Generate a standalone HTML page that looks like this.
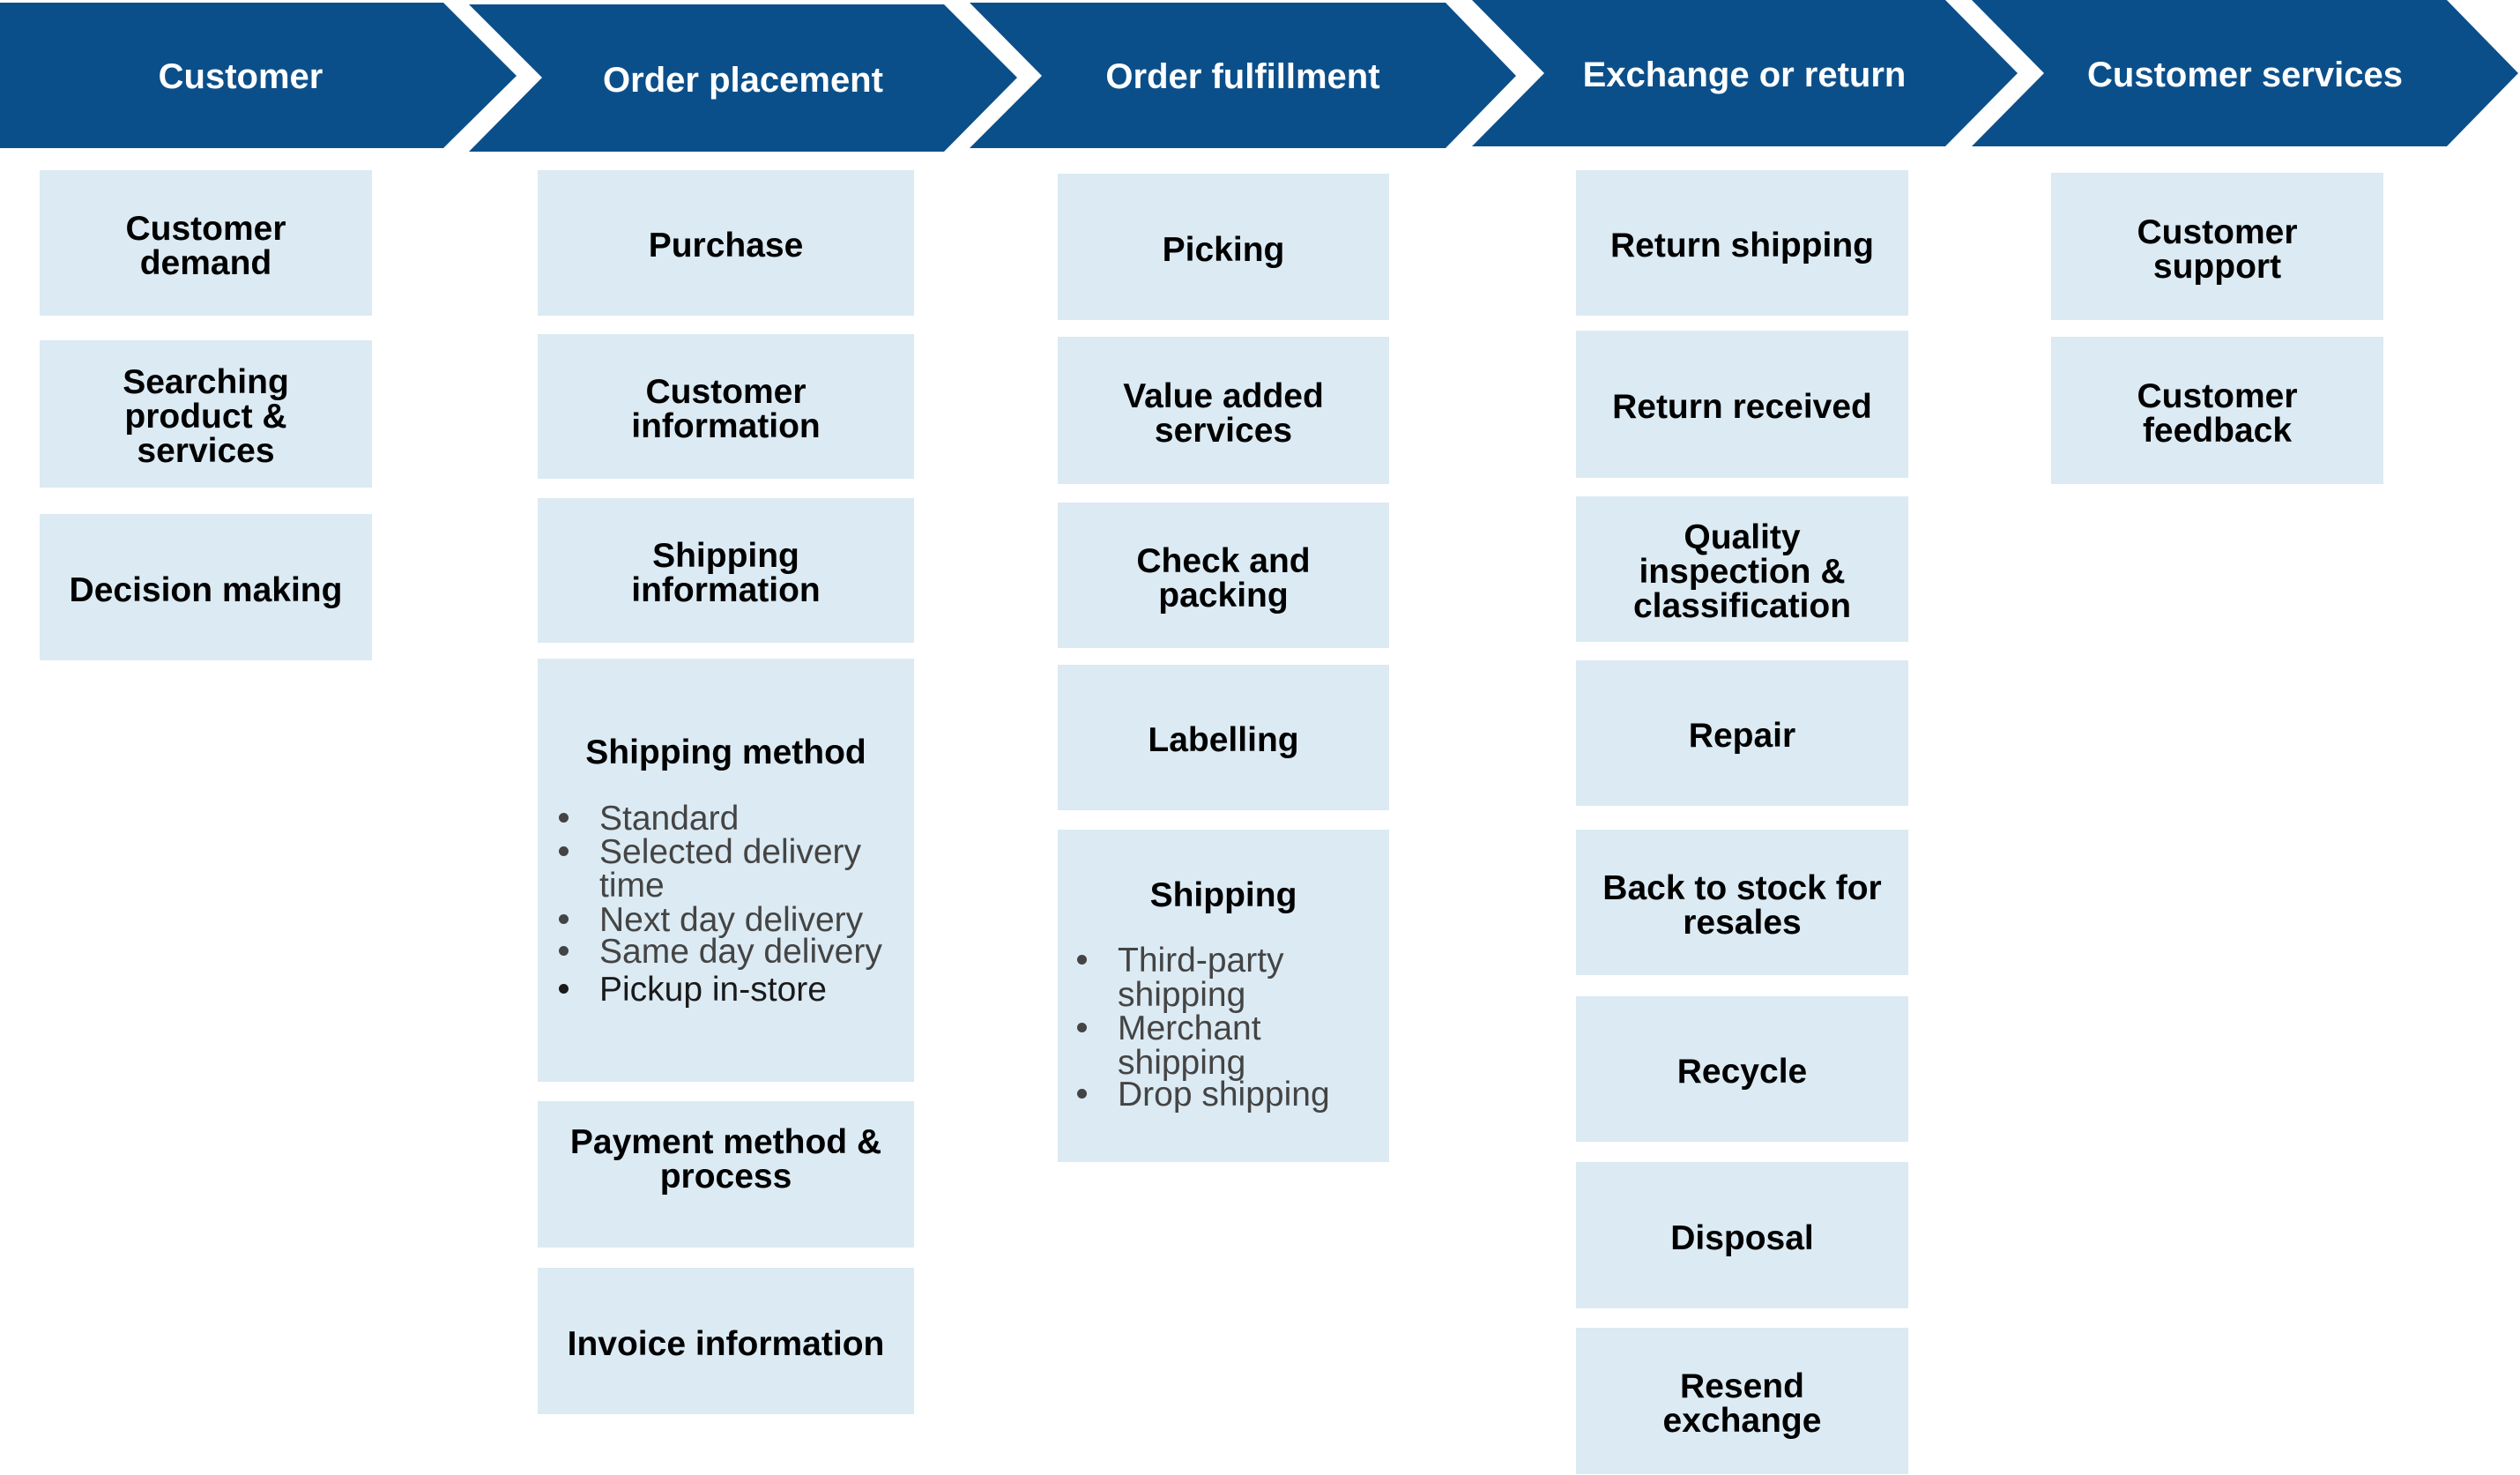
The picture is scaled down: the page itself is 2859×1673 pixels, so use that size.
<!DOCTYPE html>
<html>
<head>
<meta charset="utf-8">
<style>
  html,body{margin:0;padding:0;background:#fff;}
  body{width:2859px;height:1673px;position:relative;overflow:hidden;font-family:"Liberation Sans",Arial,sans-serif;}
  .b{position:absolute;box-sizing:border-box;padding-top:6px;background:#dbeaf3;display:flex;align-items:center;justify-content:center;text-align:center;font-weight:bold;font-size:39px;line-height:39px;color:#000;}
  .t{position:absolute;font-size:39px;line-height:39px;white-space:nowrap;}
  .tt{position:absolute;font-size:39px;line-height:39px;font-weight:bold;text-align:center;white-space:nowrap;color:#000;}
  .d{position:absolute;width:11px;height:11px;border-radius:50%;}
  svg{position:absolute;left:0;top:0;}
</style>
</head>
<body>
<svg width="2859" height="180" viewBox="0 0 2859 180">
  <g fill="#0b4f8a">
    <polygon points="0,3 503,3 586,86 503,168 0,168"/>
    <polygon points="532,5 1071,5 1154,88 1071,172 532,172 615,88"/>
    <polygon points="1100,3 1640,3 1720,86 1640,168 1100,168 1182,86"/>
    <polygon points="1670,0 2207,0 2289,83 2207,166 1670,166 1752,83"/>
    <polygon points="2237,0 2776,0 2857,83 2776,166 2237,166 2319,83"/>
  </g>
  <g fill="#fff" font-family="Liberation Sans, Arial, sans-serif" font-weight="bold" font-size="40" text-anchor="middle">
    <text x="273" y="100">Customer</text>
    <text x="843" y="104">Order placement</text>
    <text x="1410" y="100">Order fulfillment</text>
    <text x="1979" y="98">Exchange or return</text>
    <text x="2547" y="98">Customer services</text>
  </g>
</svg>

<!-- Column 1 -->
<div class="b" style="left:45px;top:193px;width:377px;height:165px;">Customer<br>demand</div>
<div class="b" style="left:45px;top:386px;width:377px;height:167px;">Searching<br>product &amp;<br>services</div>
<div class="b" style="left:45px;top:583px;width:377px;height:166px;">Decision making</div>

<!-- Column 2 -->
<div class="b" style="left:610px;top:193px;width:427px;height:165px;">Purchase</div>
<div class="b" style="left:610px;top:379px;width:427px;height:164px;">Customer<br>information</div>
<div class="b" style="left:610px;top:565px;width:427px;height:164px;">Shipping<br>information</div>
<div class="b" style="left:610px;top:747px;width:427px;height:480px;"></div>
<div class="tt" style="left:610px;top:834px;width:427px;">Shipping method</div>
<div class="d" style="left:634px;top:922px;background:#444;"></div>
<div class="t" style="left:680px;top:909px;color:#444;">Standard</div>
<div class="d" style="left:634px;top:960px;background:#444;"></div>
<div class="t" style="left:680px;top:947px;color:#444;">Selected delivery</div>
<div class="t" style="left:680px;top:985px;color:#444;">time</div>
<div class="d" style="left:634px;top:1037px;background:#444;"></div>
<div class="t" style="left:680px;top:1024px;color:#444;">Next day delivery</div>
<div class="d" style="left:634px;top:1073px;background:#444;"></div>
<div class="t" style="left:680px;top:1060px;color:#444;">Same day delivery</div>
<div class="d" style="left:634px;top:1116px;background:#1a1a1a;"></div>
<div class="t" style="left:680px;top:1103px;color:#1a1a1a;">Pickup in-store</div>
<div class="b" style="left:610px;top:1249px;width:427px;height:166px;padding-top:0;padding-bottom:34px;">Payment method &amp;<br>process</div>
<div class="b" style="left:610px;top:1438px;width:427px;height:166px;">Invoice information</div>

<!-- Column 3 -->
<div class="b" style="left:1200px;top:197px;width:376px;height:166px;">Picking</div>
<div class="b" style="left:1200px;top:382px;width:376px;height:167px;">Value added<br>services</div>
<div class="b" style="left:1200px;top:570px;width:376px;height:165px;">Check and<br>packing</div>
<div class="b" style="left:1200px;top:754px;width:376px;height:165px;">Labelling</div>
<div class="b" style="left:1200px;top:941px;width:376px;height:377px;"></div>
<div class="tt" style="left:1200px;top:996px;width:376px;">Shipping</div>
<div class="d" style="left:1222px;top:1083px;background:#444;"></div>
<div class="t" style="left:1268px;top:1070px;color:#444;">Third-party</div>
<div class="t" style="left:1268px;top:1109px;color:#444;">shipping</div>
<div class="d" style="left:1222px;top:1160px;background:#444;"></div>
<div class="t" style="left:1268px;top:1147px;color:#444;">Merchant</div>
<div class="t" style="left:1268px;top:1186px;color:#444;">shipping</div>
<div class="d" style="left:1222px;top:1235px;background:#444;"></div>
<div class="t" style="left:1268px;top:1222px;color:#444;">Drop shipping</div>

<!-- Column 4 -->
<div class="b" style="left:1788px;top:193px;width:377px;height:165px;">Return shipping</div>
<div class="b" style="left:1788px;top:375px;width:377px;height:167px;">Return received</div>
<div class="b" style="left:1788px;top:563px;width:377px;height:165px;">Quality<br>inspection &amp;<br>classification</div>
<div class="b" style="left:1788px;top:749px;width:377px;height:165px;">Repair</div>
<div class="b" style="left:1788px;top:941px;width:377px;height:165px;">Back to stock for<br>resales</div>
<div class="b" style="left:1788px;top:1130px;width:377px;height:165px;">Recycle</div>
<div class="b" style="left:1788px;top:1318px;width:377px;height:166px;">Disposal</div>
<div class="b" style="left:1788px;top:1506px;width:377px;height:166px;">Resend<br>exchange</div>

<!-- Column 5 -->
<div class="b" style="left:2327px;top:196px;width:377px;height:167px;">Customer<br>support</div>
<div class="b" style="left:2327px;top:382px;width:377px;height:167px;">Customer<br>feedback</div>
</body>
</html>
